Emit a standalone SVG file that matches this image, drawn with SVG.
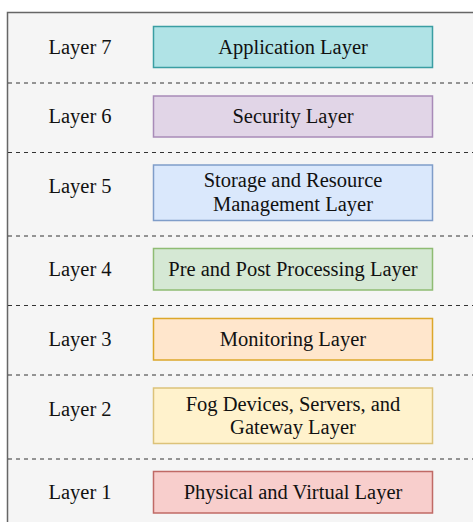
<svg xmlns="http://www.w3.org/2000/svg" width="473" height="522" viewBox="0 0 473 522">
<style>
text{font-family:"Liberation Serif","Times New Roman",serif;font-size:20.5px;fill:#111;text-anchor:middle}
.sep{stroke:#333;stroke-width:1;stroke-dasharray:4 4;fill:none}
.box{stroke-width:1.5}
</style>
<rect x="7.5" y="12.5" width="480" height="520" fill="#f5f5f5" stroke="#666" stroke-width="1.5"/>
<g id="separators">
<line class="sep" x1="8" y1="83" x2="473" y2="83"/>
<line class="sep" x1="8" y1="152.5" x2="473" y2="152.5"/>
<line class="sep" x1="8" y1="236" x2="473" y2="236"/>
<line class="sep" x1="8" y1="305.5" x2="473" y2="305.5"/>
<line class="sep" x1="8" y1="375" x2="473" y2="375"/>
<line class="sep" x1="8" y1="459" x2="473" y2="459"/>
</g>
<g id="layer7">
<text x="80" y="53.5">Layer 7</text>
<rect class="box" x="153.5" y="26.5" width="279" height="41" fill="#b0e3e6" stroke="#3a9ea3"/>
<text x="293" y="53.5">Application Layer</text>
</g>
<g id="layer6">
<text x="80" y="123">Layer 6</text>
<rect class="box" x="153.5" y="96" width="279" height="41" fill="#e1d5e7" stroke="#a88bb8"/>
<text x="293" y="123">Security Layer</text>
</g>
<g id="layer5">
<text x="80" y="192.7">Layer 5</text>
<rect class="box" x="153.5" y="165" width="279" height="55.5" fill="#dae8fc" stroke="#7f9dc9"/>
<text x="293" y="187.4">Storage and Resource</text>
<text x="293" y="211.2">Management Layer</text>
</g>
<g id="layer4">
<text x="80" y="276.3">Layer 4</text>
<rect class="box" x="153.5" y="248.5" width="279" height="41.5" fill="#d5e8d4" stroke="#8fbc73"/>
<text x="293" y="276.3">Pre and Post Processing Layer</text>
</g>
<g id="layer3">
<text x="80" y="345.7">Layer 3</text>
<rect class="box" x="153.5" y="318.5" width="279" height="41.5" fill="#ffe6cc" stroke="#dca72a"/>
<text x="293" y="345.7">Monitoring Layer</text>
</g>
<g id="layer2">
<text x="80" y="415.7">Layer 2</text>
<rect class="box" x="153.5" y="388" width="279" height="55.5" fill="#fff2cc" stroke="#dcc279"/>
<text x="293" y="410.9">Fog Devices, Servers, and</text>
<text x="293" y="433.5">Gateway Layer</text>
</g>
<g id="layer1">
<text x="80" y="498.7">Layer 1</text>
<rect class="box" x="153.5" y="471.5" width="279" height="41.5" fill="#f8cecc" stroke="#c06a66"/>
<text x="293" y="498.7">Physical and Virtual Layer</text>
</g>
</svg>
